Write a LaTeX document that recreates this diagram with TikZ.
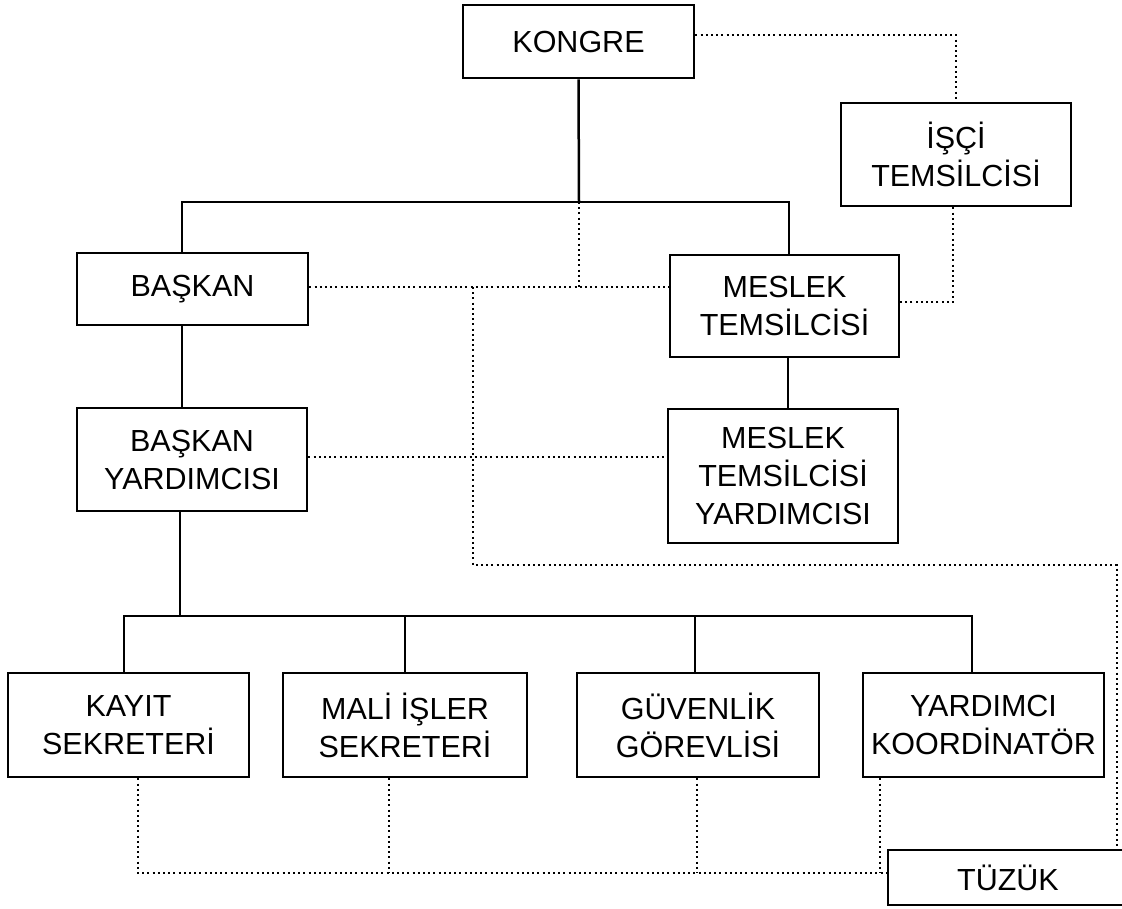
\documentclass[tikz,border=0pt]{standalone}
\usepackage{fontspec}
\setmainfont{Liberation Sans}
\usetikzlibrary{calc}
\begin{document}
\begin{tikzpicture}[x=1pt,y=-1pt,
  box/.style={draw, line width=2.9pt, inner sep=0pt, align=center, font=\fontsize{30.5}{38}\selectfont},
  solidline/.style={line width=2.5pt},
  dotline/.style={line width=2.6pt, dash pattern=on 2pt off 3.2pt}]
\useasboundingbox (0,0) rectangle (1122,908);

% boxes
\node[box, minimum width=231pt, minimum height=73pt] (kongre) at (578.5,41.5) {KONGRE};
\node[box, minimum width=230pt, minimum height=103pt] (isci) at (956,154.5) {İŞÇİ\\TEMSİLCİSİ};
\node[box, minimum width=231pt, minimum height=72pt] (baskan) at (192.5,289) {BAŞKAN};
\node[box, minimum width=229pt, minimum height=102pt] (meslek) at (784.5,306) {MESLEK\\TEMSİLCİSİ};
\node[box, minimum width=230pt, minimum height=103pt] (by) at (192,459.5) {BAŞKAN\\YARDIMCISI};
\node[box, minimum width=230pt, minimum height=134pt] (mty) at (783,476) {MESLEK\\TEMSİLCİSİ\\YARDIMCISI};
\node[box, minimum width=241pt, minimum height=104pt] (kayit) at (128.5,725) {KAYIT\\SEKRETERİ};
\node[box, minimum width=244pt, minimum height=104pt] (mali) at (405,725) {MALİ İŞLER\\SEKRETERİ};
\node[box, minimum width=242pt, minimum height=104pt] (guv) at (698,725) {GÜVENLİK\\GÖREVLİSİ};
\node[box, minimum width=241pt, minimum height=104pt] (yard) at (983.5,725) {YARDIMCI\\KOORDİNATÖR};
\node[box, minimum width=240pt, minimum height=55pt] (tuzuk) at (1008,877.5) {TÜZÜK};

% junction coordinates
\coordinate (tb) at (579,202);
\coordinate (mj) at (579,287);
\coordinate (lj) at (473,287);
\coordinate (rj) at (1117,565);
\coordinate (bb) at (180,616);
\coordinate (bl) at (138,873);

% solid connectors
\draw[solidline] (kongre.south) -- (tb);
\draw[solidline] ($(baskan.north)+(-10.5,0)$) |- (tb) -| ($(meslek.north)+(4.5,0)$);
\draw[solidline] ($(baskan.south)+(-10.5,0)$) -- ($(by.north)+(-10,0)$);
\draw[solidline] ($(meslek.south)+(3.5,0)$) -- ($(mty.north)+(5,0)$);
\draw[solidline] ($(by.south)+(-12,0)$) -- (bb);
\coordinate (kd) at ($(kayit.north)+(-4.5,0)$);
\coordinate (yd) at ($(yard.north)+(-11.5,0)$);
\coordinate (gd) at ($(guv.north)+(-3,0)$);
\draw[solidline] (kd) |- (bb) -| (yd);
\draw[solidline] (mali.north) -- (mali.north |- bb);
\draw[solidline] (gd) -- (gd |- bb);

% dotted connectors
\draw[dotline] ($(kongre.east)+(0,-6.5)$) -| (isci.north);
\draw[dotline] ($(isci.south)+(-3,0)$) |- ($(meslek.east)+(0,-4)$);
\draw[dotline] (tb) -- (mj);
\draw[dotline] ($(baskan.east)+(0,-2)$) -- ($(meslek.west)+(0,-19)$);
\draw[dotline] (lj) |- (rj) -- (rj |- tuzuk.north);
\draw[dotline] ($(by.east)+(0,-2.5)$) -- ($(mty.west)+(0,-19)$);
\draw[dotline] ($(kayit.south)+(9.5,0)$) |- ($(tuzuk.west)+(0,-4.5)$);
\coordinate (mlo) at ($(mali.south)+(-16,0)$);
\coordinate (glo) at ($(guv.south)+(-1,0)$);
\coordinate (ylo) at ($(yard.south)+(-103.5,0)$);
\draw[dotline] (mlo) -- (mlo |- bl);
\draw[dotline] (glo) -- (glo |- bl);
\draw[dotline] (ylo) -- (ylo |- bl);
\end{tikzpicture}
\end{document}
